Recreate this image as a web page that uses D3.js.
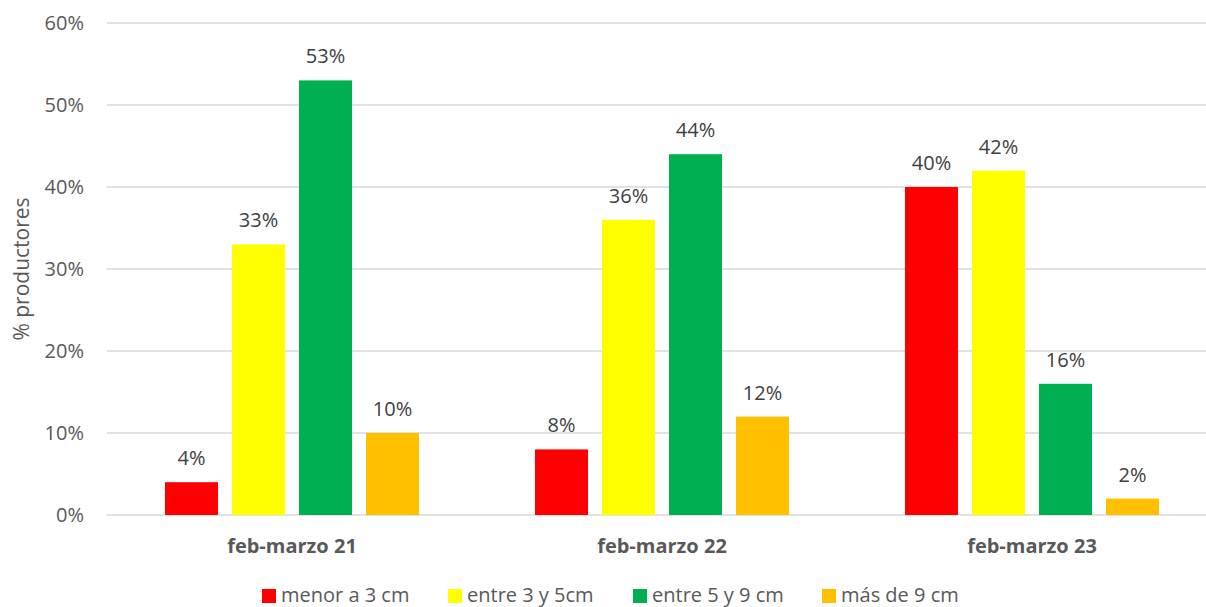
<!DOCTYPE html>
<html>
<head>
<meta charset="utf-8">
<script src="https://cdn.jsdelivr.net/npm/d3@7"></script>
<style>
  body { margin: 0; background: #fff; }
  svg { display: block; font-family: "Open Sans", "Noto Sans", sans-serif; }
  .tick-label { fill: #595959; font-size: 20px; }
  .value-label { fill: #404040; font-size: 20px; }
  .cat-label { fill: #595959; font-size: 20px; font-weight: bold; }
  .legend-label { fill: #595959; font-size: 20px; }
</style>
</head>
<body>
<div class="container"></div>
<script>
const categories = ["feb-marzo 21", "feb-marzo 22", "feb-marzo 23"];
const seriesNames = ["menor a 3 cm", "entre 3 y 5cm", "entre 5 y 9 cm", "más de 9 cm"];
const seriesColors = ["#ff0000", "#ffff00", "#00b050", "#ffc000"];
const menor3 = [4, 8, 40];
const entre3y5 = [33, 36, 42];
const entre5y9 = [53, 44, 16];
const mas9 = [10, 12, 2];
const yTicks = [0, 10, 20, 30, 40, 50, 60];

const seriesValues = [menor3, entre3y5, entre5y9, mas9];

const width = 1206, height = 607;

const x0 = d3.scaleBand().domain(categories).range([107, 1217]);
const x1 = d3.scaleBand().domain(seriesNames).range([58, 312]).paddingInner(0.209);
const y = d3.scaleLinear().domain([0, 60]).range([515, 23]);
const color = d3.scaleOrdinal().domain(seriesNames).range(seriesColors);

const svg = d3.select(".container")
  .append("svg")
  .attr("width", width)
  .attr("height", height);

// gridlines
svg.append("g")
  .selectAll("line")
  .data(yTicks)
  .enter()
  .append("line")
  .attr("x1", 107)
  .attr("x2", width)
  .attr("y1", d => y(d))
  .attr("y2", d => y(d))
  .attr("stroke", "#d9d9d9")
  .attr("stroke-width", 1.5);

// y tick labels
svg.append("g")
  .selectAll("text")
  .data(yTicks)
  .enter()
  .append("text")
  .attr("class", "tick-label")
  .attr("x", 84)
  .attr("y", d => y(d))
  .attr("dy", "0.37em")
  .attr("text-anchor", "end")
  .text(d => d + "%");

// y title
svg.append("text")
  .attr("class", "tick-label")
  .attr("transform", "translate(29,269) rotate(-90)")
  .attr("text-anchor", "middle")
  .style("font-size", "21px")
  .text("% productores");

// bars
const rows = [];
categories.forEach((c, i) => {
  seriesNames.forEach((s, j) => {
    rows.push({ cat: c, series: s, value: seriesValues[j][i] });
  });
});

const bars = svg.append("g")
  .selectAll("g")
  .data(rows)
  .enter()
  .append("g")
  .attr("transform", d => `translate(${x0(d.cat) + x1(d.series)},0)`);

bars.append("rect")
  .attr("x", 0)
  .attr("y", d => y(d.value))
  .attr("width", x1.bandwidth())
  .attr("height", d => y(0) - y(d.value))
  .attr("fill", d => color(d.series));

bars.append("text")
  .attr("class", "value-label")
  .attr("x", x1.bandwidth() / 2)
  .attr("y", d => y(d.value) - 17)
  .attr("text-anchor", "middle")
  .text(d => d.value + "%");

// category labels
svg.append("g")
  .selectAll("text")
  .data(categories)
  .enter()
  .append("text")
  .attr("class", "cat-label")
  .attr("x", d => x0(d) + x0.bandwidth() / 2)
  .attr("y", 553)
  .attr("text-anchor", "middle")
  .text(d => d);

// legend
const legendX = [262, 448, 633, 822];
const legend = svg.append("g")
  .selectAll("g")
  .data(seriesNames)
  .enter()
  .append("g")
  .attr("transform", (d, i) => `translate(${legendX[i]},589)`);

legend.append("rect")
  .attr("width", 14)
  .attr("height", 14)
  .attr("fill", d => color(d));

legend.append("text")
  .attr("class", "legend-label")
  .attr("x", 19)
  .attr("y", 13)
  .text(d => d);
</script>
</body>
</html>
